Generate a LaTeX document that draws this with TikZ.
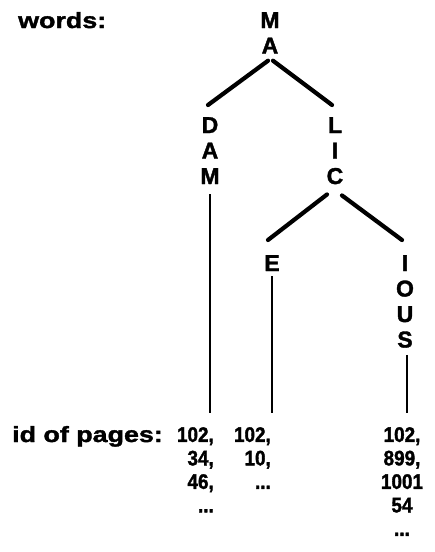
\documentclass[tikz,border=0pt]{standalone}
\usepackage{fontspec}
\setmainfont{Liberation Sans}[BoldFeatures={FakeBold=1.6}]
\newfontfamily\widefont{Liberation Sans}[FakeStretch=1.22, BoldFeatures={FakeBold=1.6}]
\newfontfamily\narrowfont{Liberation Sans}[FakeStretch=0.9, BoldFeatures={FakeBold=1.6}]
\usetikzlibrary{positioning}
\tikzset{
    letters/.style={
        font=\bfseries\fontsize{23}{25.5}\selectfont,
        align=center,
        inner sep=0pt,
        anchor=north
    },
    pageids/.style={
        font=\narrowfont\bfseries\fontsize{21}{23.5}\selectfont,
        align=#1,
        inner sep=0pt
    },
    caption/.style={
        font=\widefont\bfseries\fontsize{22}{25}\selectfont,
        inner sep=0pt,
        anchor=base west
    },
    branch/.style={line width=4.2pt, line cap=round},
    stem/.style={line width=2pt}
}

\begin{document}
\begin{tikzpicture}[x=1pt, y=-1pt]
    \useasboundingbox (0,0) rectangle (435,552);

    % the letter tree
    \node[letters] (ma) at (270,12) {M\\A};
    \node[letters] (dam) at (210,117) {D\\A\\M};
    \node[letters] (lic) at (335,117) {L\\I\\C};
    \node[letters] (e) at (272,255) {E};
    \node[letters] (ious) at (405,255) {I\\O\\U\\S};

    % page ids under each word
    \node[pageids=right, anchor=north east] (ids1) at (214,427) {102,\\34,\\46,\\...};
    \node[pageids=right, anchor=north east] (ids2) at (271,427) {102,\\10,\\...};
    \node[pageids=center, anchor=north] (ids3) at (402,427) {102,\\899,\\1001\\54\\...};

    \node[caption] (words) at (18,28) {words:};
    \node[caption] (pages) at (12,442) {id of pages:};

    % branches
    \draw[branch] ([xshift=-2pt,yshift=-7pt]ma.south) -- ([xshift=-2pt,yshift=12pt]dam.north);
    \draw[branch] ([xshift=3pt,yshift=-7pt]ma.south) -- ([xshift=-3pt,yshift=12pt]lic.north);
    \draw[branch] ([xshift=-8pt,yshift=-10pt]lic.south) -- ([xshift=-4pt,yshift=15pt]e.north);
    \draw[branch] ([xshift=7pt,yshift=-11pt]lic.south) -- ([xshift=-3pt,yshift=15pt]ious.north);

    % stems down to the lists
    \draw[stem] ([yshift=-10pt]dam.south) -- ([yshift=14pt]dam.south |- ids1.north);
    \draw[stem] ([yshift=-5pt]e.south) -- ([yshift=14pt]e.south |- ids2.north);
    \draw[stem] ([xshift=2pt,yshift=-7pt]ious.south) -- ([xshift=2pt,yshift=14pt]ious.south |- ids3.north);
\end{tikzpicture}
\end{document}
